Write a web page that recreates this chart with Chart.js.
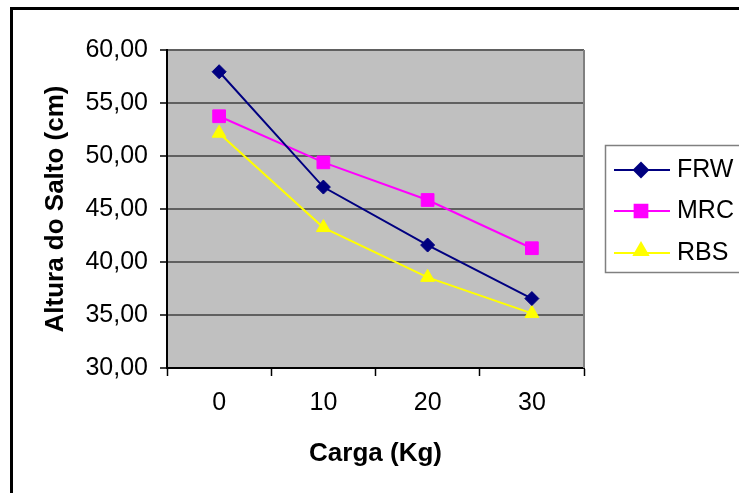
<!DOCTYPE html>
<html>
<head>
<meta charset="utf-8">
<script src="https://cdn.jsdelivr.net/npm/chart.js@4/dist/chart.umd.min.js"></script>
<style>
  html, body { margin: 0; padding: 0; background: #fff; }
  canvas { display: block; }
</style>
</head>
<body>
<canvas id="saltoChart" width="739" height="493"></canvas>
<script>
// Values
const cargas = ['0', '10', '20', '30'];
const frw = [57.95, 47.07, 41.6, 36.55];
const mrc = [53.75, 49.4, 45.85, 41.3];
const rbs = [52.15, 43.25, 38.55, 35.15];
const yMin = 30, yMax = 60, yStep = 5;

const FONT = "'Liberation Sans', Arial, sans-serif";

// Plot background, frame and the legend (Excel look)
const excelLook = {
    id: 'excelLook',
    beforeDraw(chart) {
        const c = chart.ctx, a = chart.chartArea;
        c.save();
        c.fillStyle = '#fff';
        c.fillRect(0, 0, chart.width, chart.height);
        c.fillStyle = '#c0c0c0';
        c.fillRect(a.left, a.top, a.right - a.left, a.bottom - a.top);
        c.restore();
    },
    afterDraw(chart) {
        const c = chart.ctx, a = chart.chartArea;
        c.save();
        // right edge of plot area
        c.strokeStyle = '#808080';
        c.lineWidth = 2;
        c.beginPath();
        c.moveTo(a.right, a.top);
        c.lineTo(a.right, a.bottom);
        c.stroke();
        // outer chart frame (cropped at right/bottom)
        c.strokeStyle = '#000';
        c.lineWidth = 3;
        c.strokeRect(11.5, 8.5, 900, 700);
        // legend
        c.strokeStyle = '#808080';
        c.lineWidth = 1.5;
        c.strokeRect(605.5, 145.5, 300, 127);
        const rows = [170, 211, 253];
        chart.data.datasets.forEach((ds, i) => {
            const y = rows[i];
            c.strokeStyle = ds.borderColor;
            c.lineWidth = 2;
            c.beginPath();
            c.moveTo(614, y);
            c.lineTo(670, y);
            c.stroke();
            c.fillStyle = ds.pointBackgroundColor;
            c.strokeStyle = ds.pointBorderColor;
            Chart.helpers.drawPoint(c, {
                pointStyle: ds.pointStyle, radius: ds.pointRadius, rotation: 0, borderWidth: 1
            }, 641, ds.pointStyle === 'triangle' ? y - 2 : y);
            c.fillStyle = '#000';
            c.font = '25px ' + FONT;
            c.textBaseline = 'middle';
            c.textAlign = 'left';
            c.fillText(ds.label, 677, y);
        });
        c.restore();
    }
};

function serie(label, data, color, style, radius) {
    return {
        label: label,
        data: data,
        borderColor: color,
        backgroundColor: color,
        pointBackgroundColor: color,
        pointBorderColor: color,
        pointStyle: style,
        pointRadius: radius,
        pointBorderWidth: 1,
        borderWidth: 2,
        tension: 0
    };
}

const ctx = document.getElementById('saltoChart').getContext('2d');
const saltoChart = new Chart(ctx, {
    type: 'line',
    data: {
        labels: cargas,
        datasets: [
            serie('FRW', frw, '#000080', 'rectRot', 7),
            serie('MRC', mrc, '#ff00ff', 'rect', 9),
            serie('RBS', rbs, '#ffff00', 'triangle', 8)
        ]
    },
    options: {
        responsive: false,
        animation: false,
        layout: { padding: { left: 0, top: 50, right: 155, bottom: 15 } },
        plugins: {
            legend: { display: false },
            tooltip: { enabled: false }
        },
        scales: {
            x: {
                offset: true,
                grid: {
                    offset: true,
                    drawOnChartArea: false,
                    drawTicks: true,
                    tickLength: 8,
                    tickColor: '#000',
                    tickWidth: 1.5
                },
                border: { color: '#000', width: 2 },
                ticks: { color: '#000', font: { family: FONT, size: 25 }, padding: 12 },
                title: {
                    display: true,
                    text: 'Carga (Kg)',
                    color: '#000',
                    font: { family: FONT, size: 26, weight: 'bold' },
                    padding: { top: 0, bottom: 9 }
                },
                afterFit(scale) { scale.height = 110; }
            },
            y: {
                min: yMin,
                max: yMax,
                grid: {
                    color: '#606060',
                    lineWidth: 2,
                    tickLength: 7,
                    tickColor: '#000',
                    tickWidth: 1.5
                },
                border: { color: '#000', width: 2 },
                ticks: {
                    stepSize: yStep,
                    color: '#000',
                    padding: 12,
                    font: { family: FONT, size: 25 },
                    callback: v => v.toFixed(2).replace('.', ',')
                },
                title: {
                    display: true,
                    text: 'Altura do Salto (cm)',
                    color: '#000',
                    font: { family: FONT, size: 26, weight: 'bold' },
                    padding: { top: 40, bottom: 0 }
                },
                afterFit(scale) { scale.width = 167; }
            }
        }
    },
    plugins: [excelLook]
});
</script>
</body>
</html>
